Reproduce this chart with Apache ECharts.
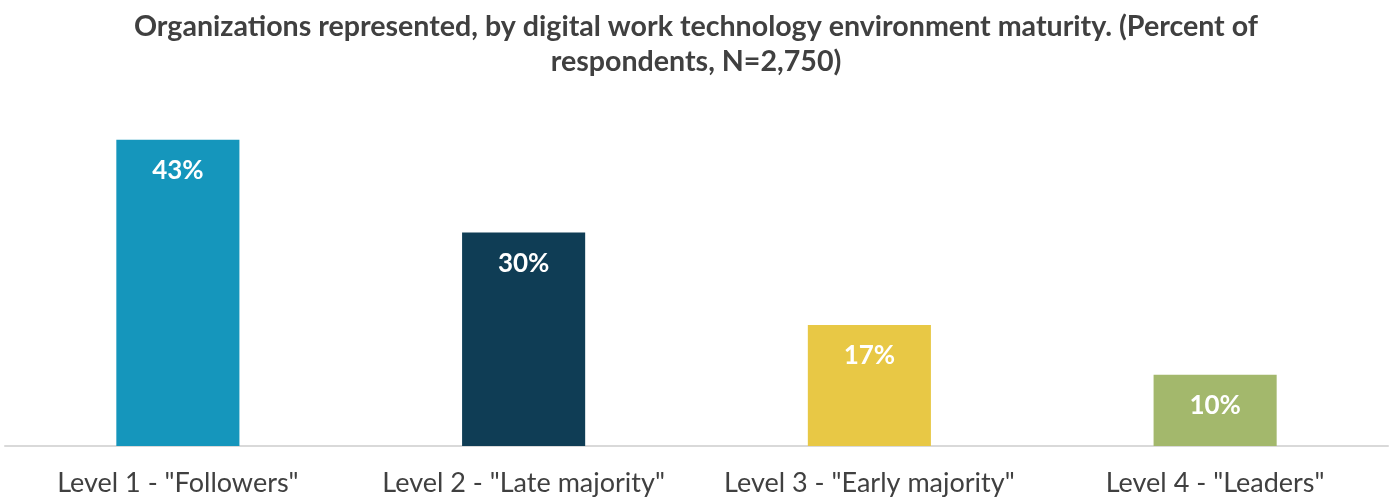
<!DOCTYPE html>
<html>
<head>
<meta charset="utf-8">
<style>
  html, body { margin: 0; padding: 0; background: #ffffff; }
  #chart { width: 1392px; height: 500px; }
</style>
<script src="https://cdn.jsdelivr.net/npm/echarts@6/dist/echarts.min.js"></script>
</head>
<body>
<div id="chart"></div>
<script>
// Maturity levels and share of respondents (%)
const categories = ['Level 1 - "Followers"', 'Level 2 - "Late majority"', 'Level 3 - "Early majority"', 'Level 4 - "Leaders"'];
const shares = [43, 30, 17, 10];
const barColors = ['#1596bc', '#0f3d55', '#e8c845', '#a3b86c'];

const FONT = 'Lato, "Open Sans", sans-serif';

const chart = echarts.init(document.getElementById('chart'), null, { renderer: 'canvas' });
chart.setOption({
  backgroundColor: '#ffffff',
  animation: false,
  title: {
    text: 'Organizations represented, by digital work technology environment maturity. (Percent of\nrespondents, N=2,750)',
    left: 'center',
    top: 4,
    textStyle: {
      fontFamily: FONT,
      fontSize: 28.6,
      fontWeight: 'bold',
      color: '#404040',
      lineHeight: 35,
      align: 'center'
    }
  },
  grid: { left: 5, right: 4, top: 90, bottom: 54, containLabel: false },
  xAxis: {
    type: 'category',
    data: categories,
    axisLine: { show: true, lineStyle: { color: '#d9d9d9', width: 2 } },
    axisTick: { show: false },
    axisLabel: {
      fontFamily: FONT,
      fontSize: 27,
      color: '#404040',
      margin: 24,
      interval: 0
    }
  },
  yAxis: {
    type: 'value',
    min: 0,
    max: 50,
    show: false,
    splitLine: { show: false }
  },
  series: [{
    type: 'bar',
    barWidth: '35.6%',
    data: shares.map((v, i) => ({ value: v, itemStyle: { color: barColors[i] } })),
    label: {
      show: true,
      position: 'insideTop',
      distance: 18,
      formatter: '{c}%',
      fontFamily: FONT,
      fontSize: 26,
      fontWeight: 'bold',
      color: '#ffffff'
    }
  }]
});
</script>
</body>
</html>
